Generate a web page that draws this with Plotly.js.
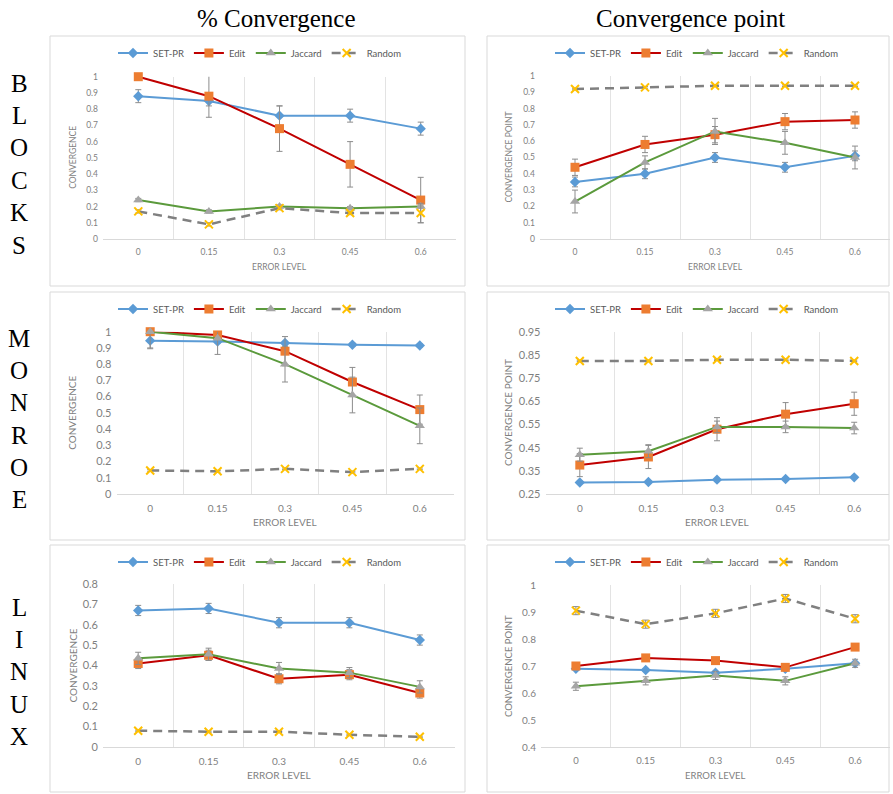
<!DOCTYPE html>
<html>
<head>
<meta charset="utf-8">
<script src="https://cdn.plot.ly/plotly-3.0.1.min.js"></script>
<style>html,body{margin:0;padding:0;background:#fff;}#chart{width:893px;height:794px;}</style>
</head>
<body>
<div id="chart"></div>
<script>
// ---------- DATA ----------
const errorLevels = ["0", "0.15", "0.3", "0.45", "0.6"];
const seriesNames = ["SET-PR", "Edit", "Jaccard", "Random"];
const columnTitles = ["% Convergence", "Convergence point"];
const rowLabels = ["BLOCKS", "MONROE", "LINUX"];
const xAxisTitle = "ERROR LEVEL";
const yAxisTitles = ["CONVERGENCE", "CONVERGENCE POINT"];

// BLOCKS - % Convergence
const blocksConvSetpr  = [0.88, 0.85, 0.76, 0.76, 0.68];
const blocksConvEdit   = [1.00, 0.88, 0.68, 0.46, 0.24];
const blocksConvJacc   = [0.24, 0.17, 0.20, 0.19, 0.20];
const blocksConvRand   = [0.17, 0.09, 0.19, 0.16, 0.16];
const blocksConvSetprErr = [0.04, 0.03, 0.06, 0.04, 0.04];
const blocksConvEditErr  = [0.00, 0.13, 0.14, 0.14, 0.14];
const blocksConvJaccErr  = [0.01, 0.01, 0.01, 0.01, 0.01];
const blocksConvRandErr  = [0.01, 0.01, 0.01, 0.01, 0.06];

// BLOCKS - Convergence point
const blocksPtSetpr  = [0.35, 0.40, 0.50, 0.44, 0.51];
const blocksPtEdit   = [0.44, 0.58, 0.64, 0.72, 0.73];
const blocksPtJacc   = [0.23, 0.47, 0.66, 0.59, 0.50];
const blocksPtRand   = [0.92, 0.93, 0.94, 0.94, 0.94];
const blocksPtSetprErr = [0.03, 0.03, 0.03, 0.03, 0.03];
const blocksPtEditErr  = [0.05, 0.05, 0.05, 0.05, 0.05];
const blocksPtJaccErr  = [0.07, 0.04, 0.08, 0.07, 0.07];
const blocksPtRandErr  = [0.005, 0.005, 0.005, 0.005, 0.005];

// MONROE - % Convergence
const monroeConvSetpr  = [0.945, 0.94, 0.93, 0.92, 0.915];
const monroeConvEdit   = [1.00, 0.98, 0.88, 0.69, 0.52];
const monroeConvJacc   = [1.00, 0.96, 0.80, 0.61, 0.42];
const monroeConvRand   = [0.145, 0.14, 0.155, 0.135, 0.155];
const monroeConvSetprErr = [0.05, 0.01, 0.01, 0.01, 0.01];
const monroeConvEditErr  = [0.00, 0.01, 0.09, 0.09, 0.09];
const monroeConvJaccErr  = [0.10, 0.10, 0.11, 0.11, 0.11];
const monroeConvRandErr  = [0.005, 0.005, 0.005, 0.005, 0.005];

// MONROE - Convergence point
const monroePtSetpr  = [0.300, 0.302, 0.312, 0.315, 0.322];
const monroePtEdit   = [0.375, 0.41, 0.53, 0.595, 0.64];
const monroePtJacc   = [0.42, 0.435, 0.54, 0.54, 0.535];
const monroePtRand   = [0.825, 0.825, 0.83, 0.83, 0.825];
const monroePtSetprErr = [0.005, 0.005, 0.005, 0.005, 0.005];
const monroePtEditErr  = [0.05, 0.05, 0.05, 0.05, 0.05];
const monroePtJaccErr  = [0.028, 0.028, 0.025, 0.025, 0.025];
const monroePtRandErr  = [0.003, 0.003, 0.003, 0.003, 0.003];

// LINUX - % Convergence
const linuxConvSetpr  = [0.67, 0.68, 0.61, 0.61, 0.525];
const linuxConvEdit   = [0.41, 0.45, 0.335, 0.355, 0.265];
const linuxConvJacc   = [0.435, 0.455, 0.385, 0.365, 0.295];
const linuxConvRand   = [0.08, 0.075, 0.075, 0.06, 0.05];
const linuxConvSetprErr = [0.025, 0.025, 0.025, 0.025, 0.025];
const linuxConvEditErr  = [0.025, 0.025, 0.025, 0.025, 0.025];
const linuxConvJaccErr  = [0.03, 0.03, 0.03, 0.025, 0.03];
const linuxConvRandErr  = [0.003, 0.003, 0.003, 0.003, 0.003];

// LINUX - Convergence point
const linuxPtSetpr  = [0.69, 0.685, 0.675, 0.69, 0.71];
const linuxPtEdit   = [0.70, 0.73, 0.72, 0.695, 0.77];
const linuxPtJacc   = [0.625, 0.645, 0.665, 0.645, 0.71];
const linuxPtRand   = [0.905, 0.855, 0.895, 0.95, 0.875];
const linuxPtSetprErr = [0.005, 0.005, 0.005, 0.005, 0.005];
const linuxPtEditErr  = [0.005, 0.005, 0.005, 0.005, 0.005];
const linuxPtJaccErr  = [0.015, 0.015, 0.015, 0.015, 0.015];
const linuxPtRandErr  = [0.015, 0.015, 0.015, 0.015, 0.015];

const panelValues = [
  [blocksConvSetpr, blocksConvEdit, blocksConvJacc, blocksConvRand],
  [blocksPtSetpr, blocksPtEdit, blocksPtJacc, blocksPtRand],
  [monroeConvSetpr, monroeConvEdit, monroeConvJacc, monroeConvRand],
  [monroePtSetpr, monroePtEdit, monroePtJacc, monroePtRand],
  [linuxConvSetpr, linuxConvEdit, linuxConvJacc, linuxConvRand],
  [linuxPtSetpr, linuxPtEdit, linuxPtJacc, linuxPtRand]
];
const panelErrors = [
  [blocksConvSetprErr, blocksConvEditErr, blocksConvJaccErr, blocksConvRandErr],
  [blocksPtSetprErr, blocksPtEditErr, blocksPtJaccErr, blocksPtRandErr],
  [monroeConvSetprErr, monroeConvEditErr, monroeConvJaccErr, monroeConvRandErr],
  [monroePtSetprErr, monroePtEditErr, monroePtJaccErr, monroePtRandErr],
  [linuxConvSetprErr, linuxConvEditErr, linuxConvJaccErr, linuxConvRandErr],
  [linuxPtSetprErr, linuxPtEditErr, linuxPtJaccErr, linuxPtRandErr]
];
const panelYRanges = [[0, 1], [0, 1], [0, 1], [0.25, 0.95], [0, 0.8], [0.4, 1]];

// ---------- LAYOUT GEOMETRY (pixels) ----------
const W = 893, H = 794;
const fx = v => v / W;
const fy = v => 1 - v / H;
const geo = [
  {plot: [103, 76.7, 456, 239], box: [50, 36, 465, 286], leg: [260, 53], xt: 267, yt: 73, fs: 8.5, yfs: 8.5},
  {plot: [540, 76, 890, 239],   box: [487, 36, 889, 286], leg: [697, 53], xt: 267, yt: 508, fs: 8.5, yfs: 8.5},
  {plot: [116.5, 331.7, 453.5, 494], box: [50, 292, 465, 540], leg: [260, 309], xt: 522, yt: 72, fs: 10, yfs: 11},
  {plot: [545.5, 332, 888.5, 494], box: [487, 292, 889, 540], leg: [697, 309], xt: 522, yt: 508, fs: 10, yfs: 11},
  {plot: [103, 584, 455, 747],  box: [50, 545, 465, 792], leg: [260, 562], xt: 775, yt: 72, fs: 10, yfs: 11},
  {plot: [541, 585, 890, 747],  box: [487, 545, 889, 792], leg: [697, 562], xt: 775, yt: 508, fs: 9.5, yfs: 10}
];

const styles = [
  {line: {color: '#5B9BD5', width: 2}, marker: {symbol: 'diamond', size: 8, color: '#5B9BD5'}},
  {line: {color: '#C00000', width: 2}, marker: {symbol: 'square', size: 9, color: '#ED7D31'}},
  {line: {color: '#5B9A3C', width: 2}, marker: {symbol: 'triangle-up', size: 9, color: '#A5A5A5'}},
  {line: {color: '#808080', width: 2.5, dash: '9px,6px'},
   marker: {symbol: 'x-thin-open', size: 8, color: '#FFC000', line: {color: '#FFC000', width: 2}}}
];

const FONT = 'Lato, "Open Sans", sans-serif';
const data = [];
const layout = {
  width: W, height: H,
  margin: {l: 0, r: 0, t: 0, b: 0},
  paper_bgcolor: '#fff', plot_bgcolor: 'rgba(0,0,0,0)',
  showlegend: true,
  font: {family: FONT, color: '#7F7F7F'},
  shapes: [], annotations: []
};

geo.forEach((g, i) => {
  const k = i + 1;
  const sfx = k === 1 ? '' : String(k);
  const legName = 'legend' + sfx;
  seriesNames.forEach((name, s) => {
    data.push({
      type: 'scatter', mode: 'lines+markers',
      x: errorLevels, y: panelValues[i][s],
      name: name,
      xaxis: 'x' + sfx, yaxis: 'y' + sfx,
      legend: legName,
      line: styles[s].line, marker: styles[s].marker,
      error_y: {type: 'data', array: panelErrors[i][s], visible: true,
                color: '#8C8C8C', thickness: 1, width: 3},
      cliponaxis: false
    });
  });
  const yr = panelYRanges[i];
  layout['xaxis' + sfx] = {
    type: 'category', domain: [fx(g.plot[0]), fx(g.plot[2])], range: [-0.5, errorLevels.length - 0.5],
    anchor: 'y' + sfx, tickson: 'boundaries', showgrid: true, gridcolor: '#E3E3E3',
    showline: true, linecolor: '#D9D9D9', linewidth: 1, ticks: '', zeroline: false,
    tickfont: {size: g.fs, color: '#7F7F7F', family: FONT}, ticklabelstandoff: 5,
    fixedrange: true
  };
  layout['yaxis' + sfx] = {
    domain: [fy(g.plot[3]), fy(g.plot[1])], anchor: 'x' + sfx,
    range: yr, tick0: yr[0], dtick: 0.1, showgrid: false, zeroline: false,
    showline: false, ticks: '',
    tickfont: {size: g.yfs, color: '#7F7F7F', family: FONT}, ticklabelstandoff: 4,
    fixedrange: true
  };
  layout[legName] = {
    orientation: 'h', x: fx(g.leg[0]), xanchor: 'center', y: fy(g.leg[1]), yanchor: 'middle',
    font: {size: 9.5, color: '#595959', family: FONT}, bgcolor: 'rgba(0,0,0,0)',
    itemwidth: 30, traceorder: 'normal'
  };
  layout.shapes.push({type: 'rect', xref: 'paper', yref: 'paper',
    x0: fx(g.box[0]), x1: fx(g.box[2]), y0: fy(g.box[3]), y1: fy(g.box[1]),
    line: {color: '#D9D9D9', width: 1}});
  layout.annotations.push({xref: 'paper', yref: 'paper', showarrow: false,
    x: fx((g.plot[0] + g.plot[2]) / 2), y: fy(g.xt), xanchor: 'center', yanchor: 'middle',
    text: xAxisTitle, font: {size: g.fs, color: '#7F7F7F', family: FONT}});
  layout.annotations.push({xref: 'paper', yref: 'paper', showarrow: false, textangle: -90,
    x: fx(g.yt), y: fy((g.plot[1] + g.plot[3]) / 2), xanchor: 'center', yanchor: 'middle',
    text: yAxisTitles[i % 2], font: {size: g.fs, color: '#7F7F7F', family: FONT}});
});

const colCenters = [276, 690];
columnTitles.forEach((t, c) => {
  layout.annotations.push({xref: 'paper', yref: 'paper', showarrow: false,
    x: fx(colCenters[c]), y: fy(18), xanchor: 'center', yanchor: 'middle', text: t,
    font: {size: 25, color: '#000', family: '"Liberation Serif", "Times New Roman", serif'}});
});
const rowStarts = [83, 338, 607];
rowLabels.forEach((lbl, r) => {
  lbl.split('').forEach((ch, j) => {
    layout.annotations.push({xref: 'paper', yref: 'paper', showarrow: false,
      x: fx(19), y: fy(rowStarts[r] + j * 32.4), xanchor: 'center', yanchor: 'middle', text: ch,
      font: {size: 25, color: '#000', family: '"Liberation Serif", "Times New Roman", serif'}});
  });
});

Plotly.newPlot('chart', data, layout, {displayModeBar: false, staticPlot: true});
</script>
</body>
</html>
